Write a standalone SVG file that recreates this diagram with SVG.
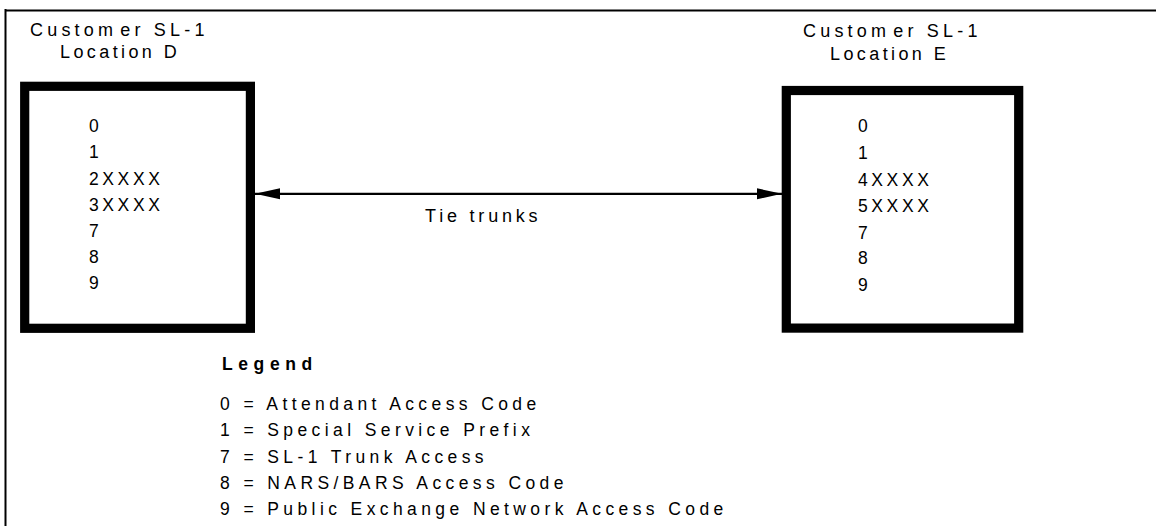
<svg xmlns="http://www.w3.org/2000/svg" width="1156" height="526" viewBox="0 0 1156 526">
<style>
text{font-family:"Liberation Sans",Arial,sans-serif;fill:#000}
.title{font-size:18px;letter-spacing:3.6px}
.cust{letter-spacing:4.2px}
.loc{letter-spacing:3.4px}
.code{font-size:17.5px;letter-spacing:3.6px}
.leg{font-size:17.5px;letter-spacing:4.4px}
.legh{font-size:17.5px;font-weight:bold;letter-spacing:5.6px}
.box{fill:#fff;stroke:#000;stroke-width:9.2}
.frame{stroke:#000;stroke-width:2;fill:none}
.conn{stroke:#000;stroke-width:2.2;fill:none}
</style>
<defs>
<marker id="ah" markerUnits="userSpaceOnUse" markerWidth="26" markerHeight="12" refX="25" refY="5.5" orient="auto-start-reverse" viewBox="0 0 26 11">
<path d="M0,0 L25,5.5 L0,11 Z" fill="#000"/>
</marker>
</defs>
<rect width="1156" height="526" fill="#fff"/>
<g id="frame">
<line class="frame" x1="5" y1="10.5" x2="1156" y2="10.5"/>
<line class="frame" x1="5.5" y1="9" x2="5.5" y2="526"/>
</g>
<g id="nodeD">
<text class="title cust" x="30" y="36">Custom<tspan dx="3">er SL-1</tspan></text>
<text class="title loc" x="60" y="58">Location D</text>
<rect class="box" x="24.7" y="86.3" width="225.7" height="242"/>
<text class="code" x="89" y="132">0</text>
<text class="code" x="89" y="158">1</text>
<text class="code" x="89" y="185">2XXXX</text>
<text class="code" x="89" y="211">3XXXX</text>
<text class="code" x="89" y="237">7</text>
<text class="code" x="89" y="263">8</text>
<text class="code" x="89" y="289">9</text>
</g>
<g id="nodeE">
<text class="title cust" x="803" y="37">Custom<tspan dx="3">er SL-1</tspan></text>
<text class="title loc" x="830" y="60">Location E</text>
<rect class="box" x="786.3" y="90.5" width="232.4" height="237.6"/>
<text class="code" x="858" y="132">0</text>
<text class="code" x="858" y="159">1</text>
<text class="code" x="858" y="186">4XXXX</text>
<text class="code" x="858" y="212">5XXXX</text>
<text class="code" x="858" y="239">7</text>
<text class="code" x="858" y="264">8</text>
<text class="code" x="858" y="291">9</text>
</g>
<g id="connectors">
<line class="conn" x1="255" y1="193.8" x2="782" y2="193.8" marker-start="url(#ah)" marker-end="url(#ah)"/>
<text class="title" x="425" y="222" style="letter-spacing:3.8px">Tie trunks</text>
</g>
<g id="legend">
<text class="legh" x="222" y="370">Legend</text>
<text class="leg" x="220" y="410">0 = Attendant Access Code</text>
<text class="leg" x="220" y="436">1 = Special Service Prefix</text>
<text class="leg" x="220" y="463">7 = SL-1 Trunk Access</text>
<text class="leg" x="220" y="489">8 = NARS/BARS Access Code</text>
<text class="leg" x="220" y="515">9 = Public Exchange Network Access Code</text>
</g>
</svg>
